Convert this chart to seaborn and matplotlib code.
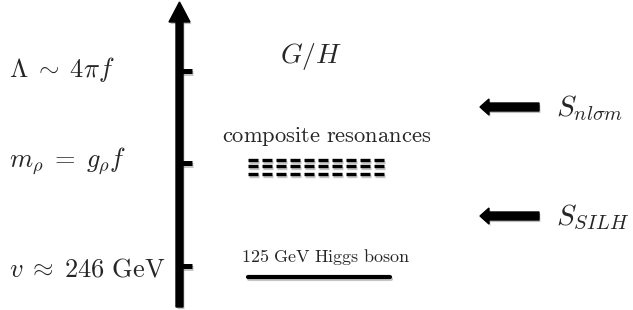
"""Energy-scale sketch: composite Higgs (SILH vs non-linear sigma model)"""
import matplotlib
matplotlib.use("Agg")
import matplotlib.pyplot as plt
import matplotlib.patheffects as pe
import seaborn as sns

# scale levels on the vertical axis (drawing units, 0 = top)
scale_labels = [r"$\Lambda\;\sim\;4\pi f$", r"$m_\rho\;=\;g_\rho f$",
                r"$v\;\approx\;246\ \mathrm{GeV}$"]
scale_levels = [70.5, 163, 266]
label_y = [70, 161, 269]

# composite resonance dashes: 3 rows x 10 dashes
reso_rows = [159.5, 165.5, 174]
reso_starts = [248, 262, 276, 290, 304, 318, 332, 346, 360, 374]
reso_len = 10

# Higgs level
higgs_x = [248, 390]
higgs_y = 277

# effective descriptions on the right
eft_labels = [r"$S_{nl\sigma m}$", r"$S_{SILH}$"]
eft_levels = [107, 216]

sns.set_theme(style="white")
plt.rcParams["mathtext.fontset"] = "cm"
plt.rcParams["font.family"] = ["DejaVu Serif"]

fig = plt.figure(figsize=(6.33, 3.10), dpi=100)
ax = fig.add_axes([0, 0, 1, 1])
ax.set_xlim(0, 633)
ax.set_ylim(310, 0)
ax.axis("off")

shadow = [pe.SimplePatchShadow(offset=(1, -1.5), alpha=0.25), pe.Normal()]
lshadow = [pe.SimpleLineShadow(offset=(1, -1.5), alpha=0.25), pe.Normal()]

# main energy axis
ax.arrow(179.5, 307, 0, -305, width=7, head_width=21, head_length=20,
         length_includes_head=True, color="black", path_effects=shadow)
ax.hlines(scale_levels, 180, 192, color="black", lw=3.6, path_effects=lshadow)
for lab, y in zip(scale_labels, label_y):
    ax.text(9, y, lab, fontsize=19, ha="left", va="center")

ax.text(311, 57, r"$G/H$", fontsize=20, ha="center", va="center")

# composite resonances
ax.text(327, 136, r"$\mathrm{composite\ resonances}$", fontsize=16.2,
        ha="center", va="center")
for y in reso_rows:
    ax.hlines([y] * len(reso_starts), reso_starts,
              [s + reso_len for s in reso_starts], color="black", lw=2.4,
              path_effects=lshadow)

# Higgs
ax.text(326, 257, r"$\mathrm{125\ GeV\ Higgs\ boson}$", fontsize=13,
        ha="center", va="center")
sns.lineplot(x=higgs_x, y=[higgs_y, higgs_y], color="black", lw=3,
             ax=ax, path_effects=lshadow)

# EFT arrows
for lab, y in zip(eft_labels, eft_levels):
    ax.arrow(539, y, -59, 0, width=8, head_width=16, head_length=9,
             length_includes_head=True, color="black", path_effects=shadow)
    ax.text(556, y + 1, lab, fontsize=21, ha="left", va="center")

fig.savefig("out.png", dpi=100)
plt.close(fig)
